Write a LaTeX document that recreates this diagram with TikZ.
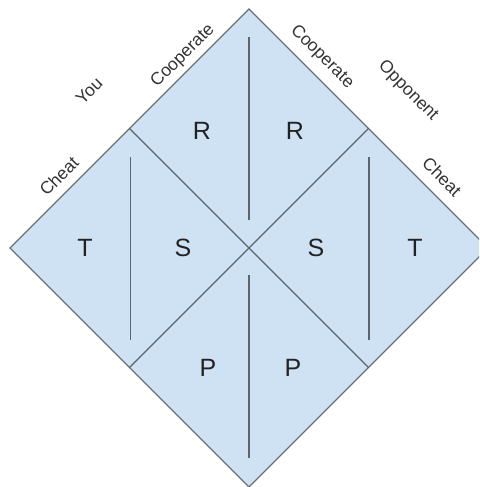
\documentclass[tikz,border=0pt]{standalone}
\usepackage{fontspec}
\setmainfont{Liberation Sans}
\definecolor{cellfill}{HTML}{CFE2F3}
\definecolor{edgegray}{HTML}{6B6F73}
\definecolor{splitgray}{HTML}{5A6570}
\definecolor{payoffink}{HTML}{222222}
\definecolor{labelink}{HTML}{333333}
\begin{document}
\begin{tikzpicture}[x=1pt,y=-1pt,
  outline/.style={draw=edgegray, line width=1.3pt, line join=miter},
  split/.style={draw=splitgray, line width=1.2pt},
  payoff/.style={font=\fontsize{25}{25}\selectfont, text=payoffink, inner sep=0pt},
  axislabel/.style={font=\fontsize{17.5}{17.5}\selectfont, text=labelink, inner sep=0pt}]
\useasboundingbox (0,0) rectangle (479,487);
\clip (0,0) rectangle (479,487);

% corners of the payoff diamond and its centre
\coordinate (N) at (249,9);
\coordinate (W) at (10,248);
\coordinate (S) at (249,487);
\coordinate (E) at (488,248);
\coordinate (C) at (249,248);
% edge midpoints
\coordinate (NWm) at (129.5,128.5);
\coordinate (NEm) at (368.5,128.5);
\coordinate (SWm) at (129.5,367.5);
\coordinate (SEm) at (368.5,367.5);

% the diamond
\filldraw[fill=cellfill, outline] (N) -- (E) -- (S) -- (W) -- cycle;

% the two crossing dividers
\draw[split] (NWm) -- (C) -- (SEm);
\draw[split] (NEm) -- (C) -- (SWm);

% vertical dividers between the payoff pairs
\coordinate (vt1) at (249,37);   \coordinate (vt2) at (249,220);
\coordinate (vb1) at (249,275);  \coordinate (vb2) at (249,458);
\coordinate (vl1) at (130.5,157); \coordinate (vl2) at (130.5,340);
\coordinate (vr1) at (369,157);  \coordinate (vr2) at (369,340);
\draw[split] (vt1) -- (vt2);
\draw[split] (vb1) -- (vb2);
\draw[split] (vl1) -- (vl2);
\draw[split] (vr1) -- (vr2);

% payoff letters
\node[payoff] (R1) at (202,131) {R};
\node[payoff] (R2) at (295,131) {R};
\node[payoff] (T1) at (85,248) {T};
\node[payoff] (S1) at (183,248) {S};
\node[payoff] (S2) at (316,248) {S};
\node[payoff] (T2) at (415,248) {T};
\node[payoff] (P1) at (208,368) {P};
\node[payoff] (P2) at (293,368) {P};

% row player labels
\node[axislabel, rotate=45] (youcheat) at (59,176) {Cheat};
\node[axislabel, rotate=45] (you) at (89,91) {You};
\node[axislabel, rotate=45] (youcoop) at (183,56) {Cooperate};
% column player labels
\node[axislabel, rotate=-45] (oppcoop) at (322,57) {Cooperate};
\node[axislabel, rotate=-45] (opp) at (408,91) {Opponent};
\node[axislabel, rotate=-45] (oppcheat) at (442,177) {Cheat};
\end{tikzpicture}
\end{document}
